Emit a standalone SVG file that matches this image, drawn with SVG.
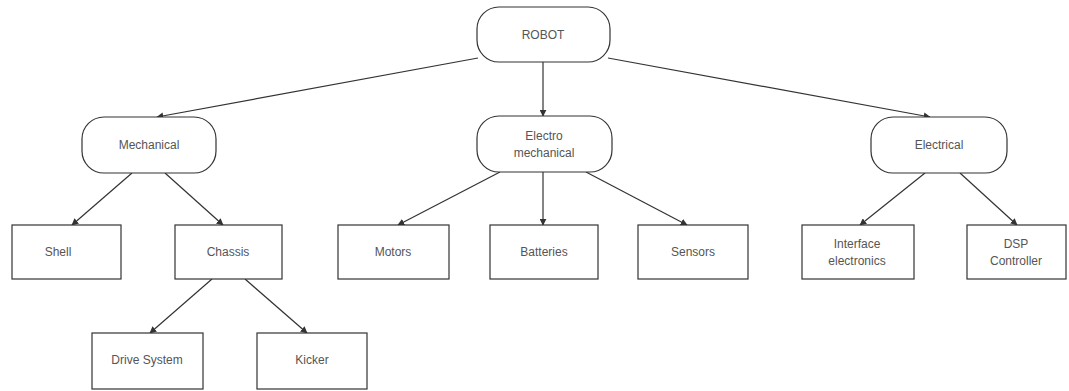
<svg xmlns="http://www.w3.org/2000/svg" width="1069" height="391" viewBox="0 0 1069 391">
<defs>
<marker id="ah" viewBox="0 0 10 10" refX="9" refY="5" markerWidth="7" markerHeight="7" orient="auto-start-reverse" markerUnits="userSpaceOnUse">
<path d="M0,0 L10,5 L0,10 z" fill="#333"/>
</marker>
<style>
.n{fill:#fff;stroke:#333;stroke-width:1.2}
.t{font-family:"Liberation Sans",Arial,sans-serif;font-size:12px;fill:#555;text-anchor:middle}
.c{stroke:#333;stroke-width:1.2;fill:none;marker-end:url(#ah)}
</style>
</defs>
<rect width="1069" height="391" fill="#fff"/>
<g id="connectors">
<line class="c" x1="478" y1="58" x2="157" y2="117"/>
<line class="c" x1="543" y1="62" x2="543" y2="116"/>
<line class="c" x1="608" y1="58" x2="930" y2="117"/>
<line class="c" x1="132" y1="173" x2="72" y2="225"/>
<line class="c" x1="165" y1="173" x2="223" y2="225"/>
<line class="c" x1="500" y1="172" x2="398" y2="225"/>
<line class="c" x1="543" y1="172" x2="543" y2="225"/>
<line class="c" x1="586" y1="172" x2="687" y2="225"/>
<line class="c" x1="925" y1="173" x2="860" y2="225"/>
<line class="c" x1="960" y1="173" x2="1017" y2="225"/>
<line class="c" x1="212" y1="279" x2="150" y2="333"/>
<line class="c" x1="245" y1="279" x2="307" y2="333"/>
</g>
<g id="robot"><rect class="n" x="477" y="7" width="133" height="55" rx="22"/><text class="t" x="543" y="39">ROBOT</text></g>
<g id="mechanical"><rect class="n" x="82" y="117" width="134" height="56" rx="22"/><text class="t" x="149" y="149">Mechanical</text></g>
<g id="electromechanical"><rect class="n" x="477" y="116" width="135" height="56" rx="22"/><text class="t" x="544" y="140">Electro</text><text class="t" x="544" y="157">mechanical</text></g>
<g id="electrical"><rect class="n" x="871" y="117" width="136" height="56" rx="22"/><text class="t" x="939" y="149">Electrical</text></g>
<g id="shell"><rect class="n" x="12" y="225" width="109" height="54"/><text class="t" x="58" y="256">Shell</text></g>
<g id="chassis"><rect class="n" x="175" y="225" width="107" height="54"/><text class="t" x="228" y="256">Chassis</text></g>
<g id="motors"><rect class="n" x="338" y="225" width="111" height="54"/><text class="t" x="393" y="256">Motors</text></g>
<g id="batteries"><rect class="n" x="490" y="225" width="108" height="54"/><text class="t" x="544" y="256">Batteries</text></g>
<g id="sensors"><rect class="n" x="638" y="225" width="110" height="54"/><text class="t" x="693" y="256">Sensors</text></g>
<g id="interface"><rect class="n" x="802" y="225" width="112" height="54"/><text class="t" x="857" y="248">Interface</text><text class="t" x="857" y="265">electronics</text></g>
<g id="dsp"><rect class="n" x="967" y="225" width="99" height="54"/><text class="t" x="1016" y="248">DSP</text><text class="t" x="1016" y="265">Controller</text></g>
<g id="drive"><rect class="n" x="92" y="333" width="111" height="56"/><text class="t" x="147" y="364">Drive System</text></g>
<g id="kicker"><rect class="n" x="257" y="333" width="110" height="56"/><text class="t" x="312" y="364">Kicker</text></g>
</svg>
